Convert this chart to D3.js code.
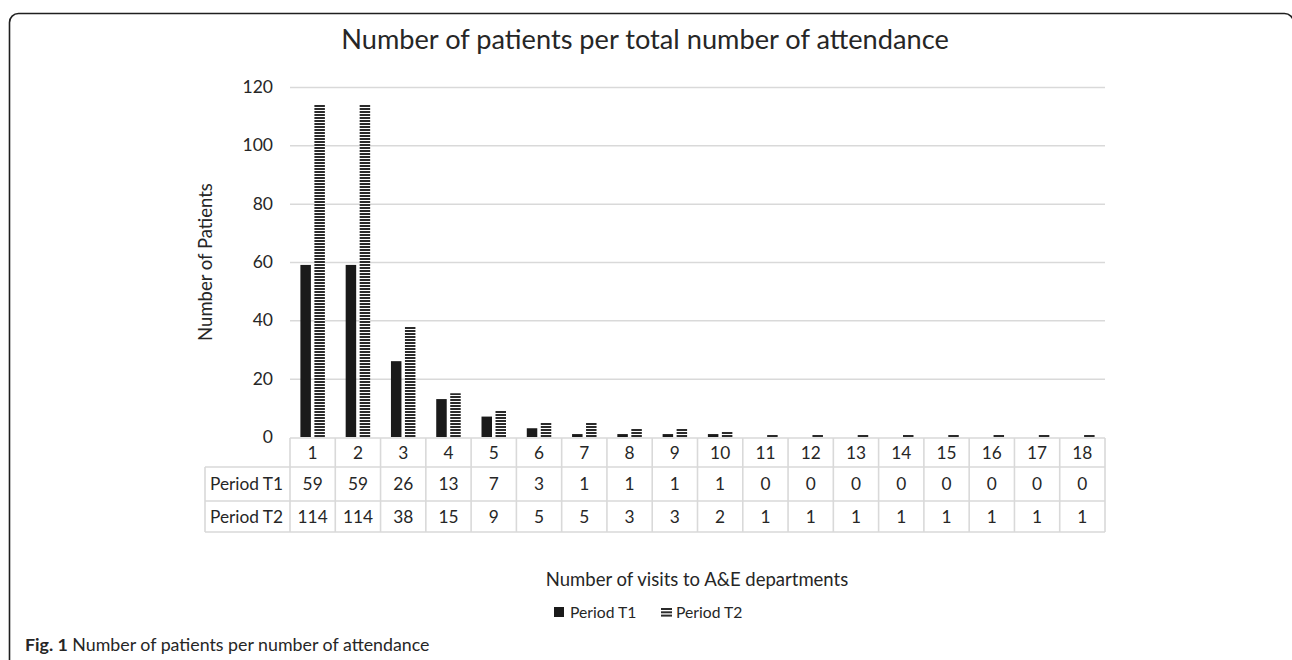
<!DOCTYPE html>
<html>
<head>
<meta charset="utf-8">
<script src="https://cdn.jsdelivr.net/npm/d3@7"></script>
<style>
  html, body { margin: 0; padding: 0; background: #fff; }
  svg { display: block; }
  text { font-family: Lato, "Open Sans", sans-serif; fill: #262626; }
</style>
</head>
<body>
<svg id="chart" width="1292" height="660"></svg>
<script>
// Number of visits to A&E departments (category axis)
const visits = ["1","2","3","4","5","6","7","8","9","10","11","12","13","14","15","16","17","18"];
// Number of patients in each period
const periodT1 = [59, 59, 26, 13, 7, 3, 1, 1, 1, 1, 0, 0, 0, 0, 0, 0, 0, 0];
const periodT2 = [114, 114, 38, 15, 9, 5, 5, 3, 3, 2, 1, 1, 1, 1, 1, 1, 1, 1];
const seriesNames = ["Period T1", "Period T2"];
const yTicks = [0, 20, 40, 60, 80, 100, 120];

const svg = d3.select("#chart");

// Striped fill for the second period
const defs = svg.append("defs");
const pat = defs.append("pattern")
  .attr("id", "stripes")
  .attr("patternUnits", "userSpaceOnUse")
  .attr("width", 6).attr("height", 3);
pat.append("rect").attr("width", 6).attr("height", 3).attr("fill", "#fff");
pat.append("rect").attr("width", 6).attr("height", 2).attr("fill", "#2b2b2b");

// Outer frame with rounded corners (runs off the right and bottom edges)
svg.append("rect")
  .attr("x", 9.5).attr("y", 13.5)
  .attr("width", 1284).attr("height", 700)
  .attr("rx", 9).attr("ry", 9)
  .attr("fill", "none").attr("stroke", "#1f1f1f").attr("stroke-width", 1.6);

// Title
svg.append("text")
  .attr("x", 645).attr("y", 49)
  .attr("text-anchor", "middle")
  .attr("font-size", 27.2)
  .text("Number of patients per total number of attendance");

// Scales
const x = d3.scaleBand().domain(visits).range([290, 1105]).padding(0);
const sub = d3.scaleBand().domain(seriesNames).range([0, x.bandwidth()])
  .paddingInner(0.25).paddingOuter(0.743);
const y = d3.scaleLinear().domain([0, 120]).range([437, 87]);

// Horizontal gridlines
svg.append("g").selectAll("line")
  .data(yTicks.filter(d => d > 0))
  .join("line")
  .attr("x1", x.range()[0]).attr("x2", x.range()[1])
  .attr("y1", d => y(d) + 0.5).attr("y2", d => y(d) + 0.5)
  .attr("stroke", "#d9d9d9").attr("stroke-width", 1.5);

// Y axis labels
const yAxis = d3.axisLeft(y).tickValues(yTicks).tickSize(0).tickPadding(0);
const yg = svg.append("g").attr("transform", "translate(273,0)").call(yAxis);
yg.select(".domain").remove();
yg.selectAll("text")
  .attr("font-size", 17.5)
  .attr("font-family", "Lato, 'Open Sans', sans-serif")
  .attr("fill", "#262626");

// Y axis title
svg.append("text")
  .attr("transform", "translate(212,262) rotate(-90)")
  .attr("text-anchor", "middle")
  .attr("font-size", 18.5)
  .text("Number of Patients");

// Bars
const rows = visits.map((v, i) => ({ v, t1: periodT1[i], t2: periodT2[i] }));
const groups = svg.append("g").selectAll("g")
  .data(rows).join("g")
  .attr("transform", d => `translate(${x(d.v)},0)`);

groups.append("rect")
  .attr("x", sub("Period T1"))
  .attr("width", sub.bandwidth())
  .attr("y", d => y(d.t1))
  .attr("height", d => y(0) - y(d.t1))
  .attr("fill", "#1a1a1a");

groups.append("rect")
  .attr("x", sub("Period T2"))
  .attr("width", sub.bandwidth())
  .attr("y", d => y(d.t2))
  .attr("height", d => y(0) - y(d.t2))
  .attr("fill", "url(#stripes)");

// Data table under the plot
const tableTop = 438;
const rowH = [29, 34, 31];
const rowY = [tableTop, tableTop + rowH[0], tableTop + rowH[0] + rowH[1], tableTop + rowH[0] + rowH[1] + rowH[2]];
const headLeft = 205;
const tbl = svg.append("g").attr("stroke", "#d9d9d9").attr("stroke-width", 1.6);

// horizontal rules
tbl.append("line").attr("x1", x.range()[0]).attr("x2", x.range()[1]).attr("y1", rowY[0]).attr("y2", rowY[0]);
[1, 2, 3].forEach(k => {
  tbl.append("line").attr("x1", headLeft).attr("x2", x.range()[1]).attr("y1", rowY[k]).attr("y2", rowY[k]);
});
// vertical rules
const colEdges = visits.map(v => x(v)).concat([x.range()[1]]);
tbl.selectAll("line.col").data(colEdges).join("line")
  .attr("class", "col")
  .attr("x1", d => d).attr("x2", d => d)
  .attr("y1", rowY[0]).attr("y2", rowY[3]);
tbl.append("line").attr("x1", headLeft).attr("x2", headLeft).attr("y1", rowY[1]).attr("y2", rowY[3]);

const cellMid = k => (rowY[k] + rowY[k + 1]) / 2;
const cellFont = 17.3;

svg.append("g").selectAll("text").data(visits).join("text")
  .attr("x", d => x(d) + x.bandwidth() / 2)
  .attr("y", cellMid(0))
  .attr("dy", "0.36em")
  .attr("text-anchor", "middle")
  .attr("font-size", cellFont)
  .text(d => d);

[periodT1, periodT2].forEach((vals, k) => {
  svg.append("text")
    .attr("x", headLeft + 5)
    .attr("y", cellMid(k + 1))
    .attr("dy", "0.36em")
    .attr("font-size", cellFont)
    .text(seriesNames[k]);
  svg.append("g").selectAll("text").data(vals).join("text")
    .attr("x", (d, i) => x(visits[i]) + x.bandwidth() / 2)
    .attr("y", cellMid(k + 1))
    .attr("dy", "0.36em")
    .attr("text-anchor", "middle")
    .attr("font-size", cellFont)
    .text(d => d);
});

// X axis title
svg.append("text")
  .attr("x", 697).attr("y", 586)
  .attr("text-anchor", "middle")
  .attr("font-size", 18.5)
  .text("Number of visits to A\u0026E departments");

// Legend
const lg = svg.append("g");
lg.append("rect").attr("x", 554).attr("y", 607).attr("width", 10).attr("height", 10).attr("fill", "#1a1a1a");
lg.append("text").attr("x", 570).attr("y", 618).attr("font-size", 15.7).text(seriesNames[0]);
[0, 1, 2].forEach(k => {
  lg.append("rect").attr("x", 661).attr("y", 608 + k * 3.3).attr("width", 11).attr("height", 2).attr("fill", "#2b2b2b");
});
lg.append("text").attr("x", 676).attr("y", 618).attr("font-size", 15.7).text(seriesNames[1]);

// Figure caption
const cap = svg.append("text").attr("x", 25).attr("y", 651).attr("font-size", 17.8)
  .attr("font-family", "'Open Sans', 'Noto Sans', sans-serif");
cap.append("tspan").attr("font-weight", "bold").text("Fig. 1");
cap.append("tspan").text(" Number of patients per number of attendance");
</script>
</body>
</html>
